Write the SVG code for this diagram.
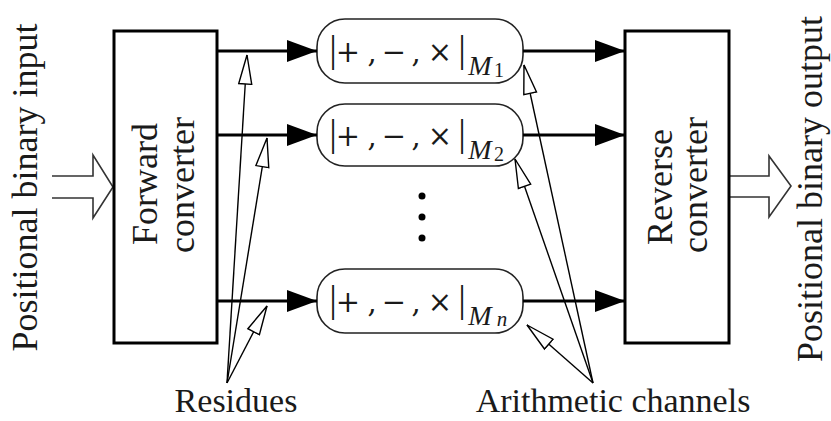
<svg xmlns="http://www.w3.org/2000/svg" width="831" height="421" viewBox="0 0 831 421">
<style>
.conv{fill:#fff;stroke:#000;stroke-width:3}
.chan{fill:#fff;stroke:#222;stroke-width:1.6}
.lbl{font-family:"Liberation Serif","Times New Roman",serif;fill:#1a1a1a}
.big{font-size:36px}
.sym{font-family:"DejaVu Serif",serif;font-size:29px}
.cm{font-family:"DejaVu Serif",serif;font-size:29px}
.bar{font-size:38px}
.sub{font-family:"Liberation Serif",serif;font-size:28px;font-style:italic}
.subn{font-family:"Liberation Serif",serif;font-size:20px}
.flow{stroke:#000;stroke-width:3;fill:none}
.ptr{stroke:#000;stroke-width:1.4;fill:none}
.io{stroke:#333;stroke-width:1.6;fill:#fff}
</style>
<defs>
<marker id="fill" markerUnits="userSpaceOnUse" markerWidth="31" markerHeight="24" refX="30" refY="12" orient="auto">
<path d="M0,1 L30,12 L0,23 Z" fill="#000"/>
</marker>
<marker id="open" markerUnits="userSpaceOnUse" markerWidth="32" markerHeight="16" refX="30" refY="8" orient="auto">
<path d="M1,1.5 L30,8 L1,14.5 Z" fill="#fff" stroke="#000" stroke-width="1.4"/>
</marker>
</defs>

<g id="input-label">
<text class="lbl big" text-anchor="middle" transform="translate(37,187.5) rotate(-90)">Positional binary input</text>
</g>
<g id="output-label">
<text class="lbl big" text-anchor="middle" transform="translate(822,189) rotate(-90)">Positional binary output</text>
</g>

<g id="input-arrow">
<path class="io" d="M52,176 L93,176 L93,155 L113,187 L93,218 L93,198 L52,198"/>
</g>
<g id="output-arrow">
<path class="io" d="M729,176 L769,176 L769,156 L791,186 L769,217 L769,197 L729,197"/>
</g>

<g id="forward-converter">
<rect class="conv" x="114" y="31" width="103" height="312"/>
<text class="lbl big" text-anchor="middle" transform="translate(157,184) rotate(-90)">Forward</text>
<text class="lbl big" text-anchor="middle" transform="translate(194,185) rotate(-90)">converter</text>
</g>

<g id="reverse-converter">
<rect class="conv" x="625" y="31" width="104" height="312"/>
<text class="lbl big" text-anchor="middle" transform="translate(672,187) rotate(-90)">Reverse</text>
<text class="lbl big" text-anchor="middle" transform="translate(707,185) rotate(-90)">converter</text>
</g>

<g id="channel-1">
<rect class="chan" x="317" y="19" width="206" height="64" rx="28"/>
<text class="lbl" text-anchor="middle"><tspan class="bar" x="333" y="62">|</tspan><tspan class="sym" x="348" y="62">+</tspan><tspan class="sym" x="372" y="62">,</tspan><tspan class="sym" x="394" y="62">−</tspan><tspan class="sym" x="416" y="62">,</tspan><tspan class="sym" x="440" y="62">×</tspan><tspan class="bar" x="462" y="62">|</tspan><tspan class="sub" x="480" y="75">M</tspan><tspan class="subn" x="499" y="77">1</tspan></text>
</g>

<g id="channel-2">
<rect class="chan" x="317" y="104" width="206" height="62" rx="28"/>
<text class="lbl" text-anchor="middle"><tspan class="bar" x="333" y="146">|</tspan><tspan class="sym" x="348" y="146">+</tspan><tspan class="sym" x="372" y="146">,</tspan><tspan class="sym" x="394" y="146">−</tspan><tspan class="sym" x="416" y="146">,</tspan><tspan class="sym" x="440" y="146">×</tspan><tspan class="bar" x="462" y="146">|</tspan><tspan class="sub" x="480" y="159">M</tspan><tspan class="subn" x="499" y="161">2</tspan></text>
</g>

<g id="channel-n">
<rect class="chan" x="317" y="269" width="206" height="64" rx="28"/>
<text class="lbl" text-anchor="middle"><tspan class="bar" x="333" y="312">|</tspan><tspan class="sym" x="348" y="312">+</tspan><tspan class="sym" x="372" y="312">,</tspan><tspan class="sym" x="394" y="312">−</tspan><tspan class="sym" x="416" y="312">,</tspan><tspan class="sym" x="440" y="312">×</tspan><tspan class="bar" x="462" y="312">|</tspan><tspan class="sub" x="480" y="325">M</tspan><tspan class="sub" x="502" y="326" style="font-size:21px">n</tspan></text>
</g>

<g id="ellipsis">
<circle cx="422" cy="196" r="3.5" fill="#000"/>
<circle cx="422" cy="217" r="3.5" fill="#000"/>
<circle cx="422" cy="238" r="3.5" fill="#000"/>
</g>

<g id="connectors">
<line class="flow" x1="217" y1="51" x2="317" y2="51" marker-end="url(#fill)"/>
<line class="flow" x1="217" y1="135" x2="317" y2="135" marker-end="url(#fill)"/>
<line class="flow" x1="217" y1="301" x2="317" y2="301" marker-end="url(#fill)"/>
<line class="flow" x1="523" y1="51" x2="625" y2="51" marker-end="url(#fill)"/>
<line class="flow" x1="523" y1="135" x2="625" y2="135" marker-end="url(#fill)"/>
<line class="flow" x1="523" y1="301" x2="625" y2="301" marker-end="url(#fill)"/>
<line class="ptr" x1="227" y1="383" x2="247" y2="55" marker-end="url(#open)"/>
<line class="ptr" x1="227" y1="383" x2="267" y2="138" marker-end="url(#open)"/>
<line class="ptr" x1="227" y1="383" x2="267" y2="306" marker-end="url(#open)"/>
<line class="ptr" x1="593" y1="383" x2="524" y2="65" marker-end="url(#open)"/>
<line class="ptr" x1="593" y1="383" x2="515" y2="159" marker-end="url(#open)"/>
<line class="ptr" x1="593" y1="383" x2="527" y2="325" marker-end="url(#open)"/>
</g>

<g id="residues-label">
<text class="lbl" style="font-size:34px" x="236" y="412" text-anchor="middle">Residues</text>
</g>
<g id="channels-label">
<text class="lbl" style="font-size:34px" x="613" y="412" text-anchor="middle">Arithmetic channels</text>
</g>
</svg>
